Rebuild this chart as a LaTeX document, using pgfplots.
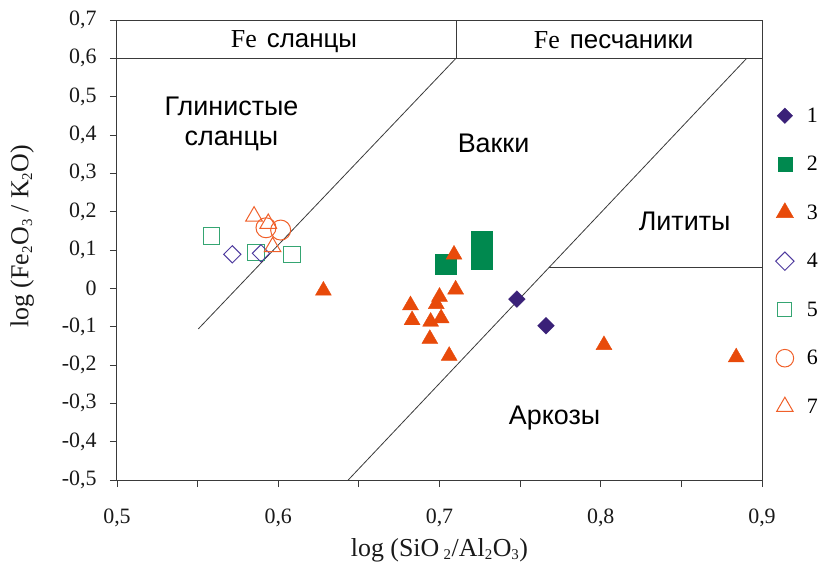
\documentclass[border=0pt]{standalone}
\usepackage{fontspec}
\setmainfont{Liberation Serif}
\newfontfamily\arial{Liberation Sans}
\usepackage{pgfplots}
\pgfplotsset{compat=1.18}
\definecolor{cA}{HTML}{3A2178}
\definecolor{cB}{HTML}{00894F}
\definecolor{cC}{HTML}{E84A0A}
\definecolor{cD}{HTML}{4E3A9E}
\definecolor{cE}{HTML}{35A572}
\definecolor{cF}{HTML}{F0602A}
\definecolor{ln}{HTML}{3A3A3A}
\begin{document}
\begin{tikzpicture}
\path[use as bounding box] (-117bp,-87bp) rectangle (706bp,480bp);
\begin{axis}[
  at={(0,0)}, anchor=south west,
  scale only axis, width=645bp, height=460bp,
  xmin=0.5, xmax=0.9, ymin=-0.5, ymax=0.7,
  axis line style={color=ln, line width=1bp},
  xtick={0.5,0.6,0.7,0.8,0.9},
  minor xtick={0.55,0.65,0.75,0.85},
  ytick={-0.5,-0.4,-0.3,-0.2,-0.1,0,0.1,0.2,0.3,0.4,0.5,0.6,0.7},
  tick align=outside, tick pos=left,
  major tick length=7bp, minor tick length=7bp,
  every tick/.style={color=ln, line width=0.9bp},
  /pgf/number format/use comma,
  /pgf/number format/fixed,
  /pgf/number format/precision=1,
  /pgf/number format/assume math mode=true,
  ticklabel style={font=\fontsize{22}{26}\selectfont, color=black!90},
  xticklabel style={yshift=-18bp},
  yticklabel style={xshift=-10bp},
  xlabel={log (SiO\,$_{\mbox{\fontsize{15}{15}\selectfont 2}}$/Al$_{\mbox{\fontsize{15}{15}\selectfont 2}}$O$_{\mbox{\fontsize{15}{15}\selectfont 3}}$)},
  ylabel={log (Fe$_{\mbox{\fontsize{15}{15}\selectfont 2}}$O$_{\mbox{\fontsize{15}{15}\selectfont 3}}$ / K$_{\mbox{\fontsize{15}{15}\selectfont 2}}$O)},
  label style={font=\fontsize{26}{30}\selectfont, color=black!90},
  xlabel style={at={(axis description cs:0.5,-0.152)}, anchor=center},
  ylabel style={at={(axis description cs:-0.147,0.53)}, anchor=center},
  clip=false,
  legend style={draw=none, fill=none, at={(axis description cs:1.015,0.825)}, anchor=north west,
    font=\fontsize{22}{25}\selectfont, row sep=22.5bp,
    nodes={inner sep=1bp},
    /tikz/every odd column/.append style={column sep=9bp}},
  legend cell align=left,
  legend image code/.code={\path[draw=none, fill=none] (-10bp,-13bp) rectangle (12bp,13bp); \draw[#1] plot coordinates {(0bp,0bp)};},
]
% boundary lines
\addplot[ln, line width=0.8bp, forget plot] coordinates {(0.5,0.6) (0.9,0.6)};
\addplot[ln, line width=0.8bp, forget plot] coordinates {(0.7102,0.6) (0.7102,0.7)};
\addplot[ln, line width=0.8bp, forget plot] coordinates {(0.5504,-0.106) (0.7102,0.6)};
\addplot[ln, line width=0.8bp, forget plot] coordinates {(0.6434,-0.5) (0.8905,0.6)};
\addplot[ln, line width=0.8bp, forget plot] coordinates {(0.768,0.055) (0.9,0.055)};

% series 5 open squares
\addplot[only marks, mark=square, mark size=8.3bp, mark options={draw=cE, line width=1bp}, forget plot]
  coordinates {(0.5587,0.137) (0.5862,0.0939) (0.6087,0.0887)};
% series 4 open diamonds
\addplot[only marks, mark=square, mark size=6.1bp, mark options={draw=cD, line width=1bp, rotate=45}, forget plot]
  coordinates {(0.5715,0.0887) (0.5893,0.0913)};
% series 6 open circles
\addplot[only marks, mark=o, mark size=10bp, mark options={draw=cF, line width=1bp}, forget plot]
  coordinates {(0.5924,0.158) (0.6015,0.152)};
% series 7 open triangles
\addplot[only marks, mark=triangle, mark size=9.6bp, mark options={draw=cF, line width=1bp}, forget plot]
  coordinates {(0.585,0.188) (0.5938,0.169) (0.5965,0.108)};
% series 2 filled squares
\addplot[only marks, mark=square*, mark size=10.3bp, mark options={draw=cB, fill=cB}, forget plot]
  coordinates {(0.7037,0.0626) (0.726,0.1225) (0.726,0.078)};
% series 3 filled triangles
\addplot[only marks, mark=triangle*, mark size=9.2bp, mark options={draw=cC, fill=cC}, forget plot]
  coordinates {(0.628,-0.006) (0.709,0.088) (0.710,-0.003) (0.682,-0.044) (0.683,-0.083)
  (0.700,-0.022) (0.698,-0.041) (0.701,-0.078) (0.6945,-0.087) (0.694,-0.132)
  (0.706,-0.176) (0.802,-0.148) (0.884,-0.180)};
% series 1 filled diamonds
\addplot[only marks, mark=square*, mark size=5.9bp, mark options={draw=cA, fill=cA, rotate=45}, forget plot]
  coordinates {(0.748,-0.028) (0.766,-0.0975)};

% legend
\addlegendimage{only marks, mark=square*, mark size=5.5bp, mark options={draw=cA, fill=cA, rotate=45}}
\addlegendentry{1}
\addlegendimage{only marks, mark=square*, mark size=7bp, mark options={draw=cB, fill=cB}}
\addlegendentry{2}
\addlegendimage{only marks, mark=triangle*, mark size=10bp, mark options={draw=cC, fill=cC}}
\addlegendentry{3}
\addlegendimage{only marks, mark=square, mark size=6.5bp, mark options={draw=cD, line width=1bp, rotate=45}}
\addlegendentry{4}
\addlegendimage{only marks, mark=square, mark size=7bp, mark options={draw=cE, line width=1bp}}
\addlegendentry{5}
\addlegendimage{only marks, mark=o, mark size=8.8bp, mark options={draw=cF, line width=1bp}}
\addlegendentry{6}
\addlegendimage{only marks, mark=triangle, mark size=9.5bp, mark options={draw=cF, line width=1bp}}
\addlegendentry{7}

% region labels
\node[anchor=base, font=\fontsize{26}{30}\selectfont] at (axis cs:0.6098,0.6277) {Fe\hspace{10bp}{\arial сланцы}};
\node[anchor=base, font=\fontsize{26}{30}\selectfont] at (axis cs:0.808,0.626) {Fe\hspace{10bp}{\arial песчаники}};
\node[anchor=base, font=\arial\fontsize{27}{31}\selectfont] at (axis cs:0.571,0.452) {Глинистые};
\node[anchor=base, font=\arial\fontsize{27}{31}\selectfont] at (axis cs:0.571,0.372) {сланцы};
\node[anchor=base, font=\arial\fontsize{27}{31}\selectfont] at (axis cs:0.7335,0.3556) {Вакки};
\node[anchor=base, font=\arial\fontsize{27}{31}\selectfont] at (axis cs:0.852,0.1521) {Лититы};
\node[anchor=base, font=\arial\fontsize{27}{31}\selectfont] at (axis cs:0.7714,-0.354) {Аркозы};
\end{axis}
\end{tikzpicture}
\end{document}
